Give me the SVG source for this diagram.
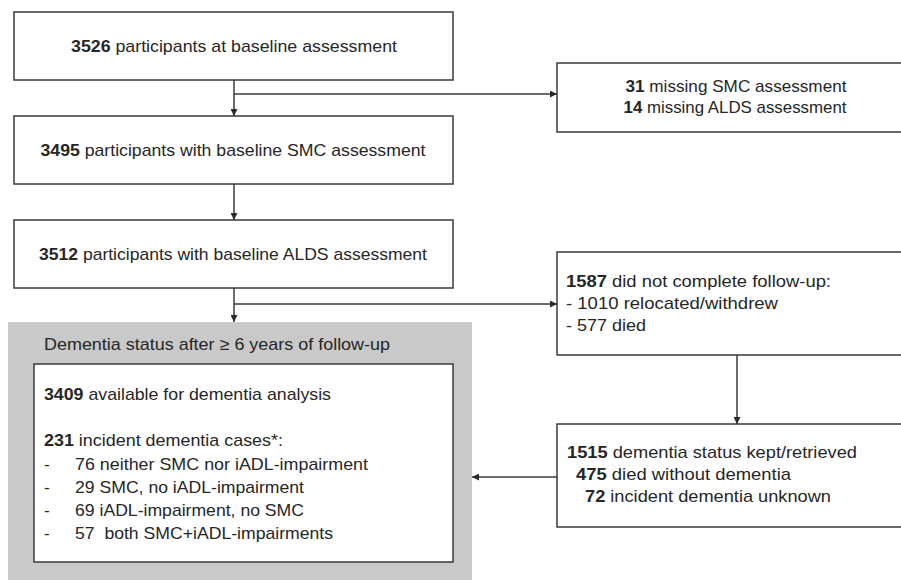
<svg xmlns="http://www.w3.org/2000/svg" width="901" height="580" viewBox="0 0 901 580">
<style>
text{font-family:"Liberation Sans",Arial,sans-serif;font-size:17px;fill:#262626}
.b{font-weight:bold}
.box{fill:#fff;stroke:#3a3a3a;stroke-width:1.5}
.grey{fill:#c9c9c9;stroke:none}
.c{text-anchor:middle}
.ln{fill:none;stroke:#3a3a3a;stroke-width:1.5}
</style>
<defs>
<marker id="ah" viewBox="0 0 10 10" refX="10" refY="5" markerWidth="7" markerHeight="7" markerUnits="userSpaceOnUse" orient="auto">
<path d="M0,0 L10,5 L0,10 z" fill="#2a2a2a"/>
</marker>
</defs>
<rect width="901" height="580" fill="#fff"/>

<g id="n1">
<rect class="box" x="14" y="12" width="439" height="68"/>
<text class="c" x="234" y="52" textLength="326" lengthAdjust="spacingAndGlyphs"><tspan class="b">3526</tspan> participants at baseline assessment</text>
</g>
<g id="n2">
<rect class="box" x="14" y="116" width="439" height="68"/>
<text class="c" x="233" y="156" textLength="385" lengthAdjust="spacingAndGlyphs"><tspan class="b">3495</tspan> participants with baseline SMC assessment</text>
</g>
<g id="n3">
<rect class="box" x="14" y="220" width="439" height="68"/>
<text class="c" x="233" y="260" textLength="388" lengthAdjust="spacingAndGlyphs"><tspan class="b">3512</tspan> participants with baseline ALDS assessment</text>
</g>
<g id="n4">
<rect class="box" x="557" y="63" width="360" height="69"/>
<text class="c" x="736" y="92" textLength="221" lengthAdjust="spacingAndGlyphs"><tspan class="b">31</tspan> missing SMC assessment</text>
<text class="c" x="735" y="113" textLength="223" lengthAdjust="spacingAndGlyphs"><tspan class="b">14</tspan> missing ALDS assessment</text>
</g>
<g id="n5">
<rect class="box" x="557" y="252" width="360" height="103"/>
<text x="566" y="287" textLength="265" lengthAdjust="spacingAndGlyphs"><tspan class="b">1587</tspan> did not complete follow-up:</text>
<text x="566" y="309" textLength="212" lengthAdjust="spacingAndGlyphs">- 1010 relocated/withdrew</text>
<text x="566" y="331" textLength="80" lengthAdjust="spacingAndGlyphs">- 577 died</text>
</g>
<g id="n6">
<rect class="box" x="557" y="424" width="360" height="103"/>
<text x="567" y="458" textLength="290" lengthAdjust="spacingAndGlyphs"><tspan class="b">1515</tspan> dementia status kept/retrieved</text>
<text x="576" y="480" textLength="215" lengthAdjust="spacingAndGlyphs"><tspan class="b">475</tspan> died without dementia</text>
<text x="585" y="502" textLength="246" lengthAdjust="spacingAndGlyphs"><tspan class="b">72</tspan> incident dementia unknown</text>
</g>
<g id="n7">
<rect class="grey" x="8" y="322" width="464" height="270"/>
<text x="44" y="350" textLength="346" lengthAdjust="spacingAndGlyphs">Dementia status after ≥ 6 years of follow-up</text>
<rect class="box" x="34" y="364" width="419" height="198"/>
<text x="44" y="400" textLength="287" lengthAdjust="spacingAndGlyphs"><tspan class="b">3409</tspan> available for dementia analysis</text>
<text x="44" y="446" textLength="239" lengthAdjust="spacingAndGlyphs"><tspan class="b">231</tspan> incident dementia cases*:</text>
<text x="44" y="470">-</text>
<text x="75" y="470" textLength="293" lengthAdjust="spacingAndGlyphs">76 neither SMC nor iADL-impairment</text>
<text x="44" y="493">-</text>
<text x="75" y="493" textLength="229" lengthAdjust="spacingAndGlyphs">29 SMC, no iADL-impairment</text>
<text x="44" y="516">-</text>
<text x="75" y="516" textLength="229" lengthAdjust="spacingAndGlyphs">69 iADL-impairment, no SMC</text>
<text x="44" y="539">-</text>
<text x="75" y="539" textLength="258" lengthAdjust="spacingAndGlyphs" xml:space="preserve">57  both SMC+iADL-impairments</text>
</g>

<g id="connectors">
<path class="ln" d="M234,80 V116" marker-end="url(#ah)"/>
<path class="ln" d="M234,94 H557" marker-end="url(#ah)"/>
<path class="ln" d="M234,184 V220" marker-end="url(#ah)"/>
<path class="ln" d="M234,288 V322" marker-end="url(#ah)"/>
<path class="ln" d="M234,304 H557" marker-end="url(#ah)"/>
<path class="ln" d="M737,355 V424" marker-end="url(#ah)"/>
<path class="ln" d="M557,477 H472" marker-end="url(#ah)"/>
</g>
</svg>
